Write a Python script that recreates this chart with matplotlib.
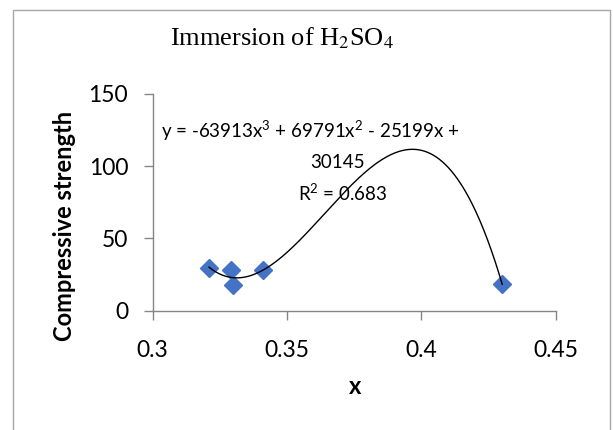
import numpy as np
import matplotlib
matplotlib.use('Agg')
import matplotlib.pyplot as plt
from matplotlib.patches import Rectangle


# water-cement ratio vs compressive strength after acid immersion
x_ratio = [0.321, 0.329, 0.330, 0.341, 0.430]
strength = [29.7, 28.1, 17.7, 28.1, 18.2]

x_ticks = [0.3, 0.35, 0.4, 0.45]
x_tick_labels = ['0.3', '0.35', '0.4', '0.45']
y_ticks = [0, 50, 100, 150]

eq_lines = ['y = -63913x$^3$ + 69791x$^2$ - 25199x +', '30145', 'R$^2$ = 0.683']

SANS = ['Lato', 'DejaVu Sans']
AXIS_GREY = '#868686'

# superscripts in the equation use the same sans face
plt.rcParams['mathtext.fontset'] = 'custom'
plt.rcParams['mathtext.rm'] = 'Lato'
plt.rcParams['mathtext.it'] = 'Lato:italic'

fig = plt.figure(figsize=(6.13, 4.30), dpi=100)
fig.patches.append(Rectangle((13 / 613, -0.1), (610 - 13) / 613, 1.1 - 10 / 430,
                             transform=fig.transFigure, fill=False,
                             edgecolor='#a6a6a6', linewidth=1.0))

ax = fig.add_axes([152.5 / 613, 1 - 310.5 / 430, (556 - 152.5) / 613, (310.5 - 94) / 430])

ax.plot(x_ratio, strength, linestyle='none', marker='D', markersize=9.5,
        color='#4472C4', zorder=3)

# third-order polynomial trendline over the data range
coef = np.polyfit(x_ratio, strength, 3)
xs = np.linspace(min(x_ratio), max(x_ratio), 300)
ax.plot(xs, np.polyval(coef, xs), color='black', linewidth=1.0, zorder=4)

ax.set_xlim(0.3, 0.45)
ax.set_ylim(0, 150)
ax.set_xticks(x_ticks)
ax.set_xticklabels(x_tick_labels)
ax.set_yticks(y_ticks)

for side in ['top', 'right']:
    ax.spines[side].set_visible(False)
for side in ['left', 'bottom']:
    ax.spines[side].set_color(AXIS_GREY)
    ax.spines[side].set_linewidth(1.0)
ax.tick_params(direction='out', length=6.5, width=1.0, color=AXIS_GREY,
               labelsize=16.5)
ax.tick_params(axis='x', pad=15)
ax.tick_params(axis='y', pad=11)
for lbl in ax.get_xticklabels() + ax.get_yticklabels():
    lbl.set_family(SANS)

ax.set_xlabel('x', family=SANS, fontsize=17, fontweight='bold', va='center')
ax.xaxis.set_label_coords(0.502, -0.353)
ax.set_ylabel('Compressive strength', family=SANS, fontsize=17,
              fontweight='bold', va='center')
ax.yaxis.set_label_coords(-0.217, 0.39)

fig.text(282 / 613, 1 - 38 / 430, 'Immersion of H$_2$SO$_4$',
         family='Liberation Serif', fontsize=19, ha='center', va='center',
         math_fontfamily='stix')

# trendline equation, placed line by line
eq_pos = [(161, 'left', 131), (338, 'center', 163), (343, 'center', 193)]
for (px, align, py), txt in zip(eq_pos, eq_lines):
    fig.text(px / 613, 1 - py / 430, txt, family=SANS, fontsize=13.5,
             ha=align, va='center')

fig.savefig('out.png', dpi=100)
